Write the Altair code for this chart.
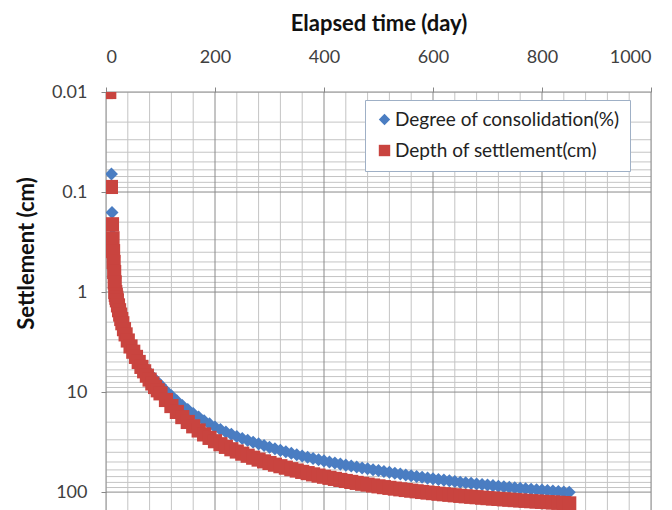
import altair as alt
import pandas as pd

SERIES = ["Degree of consolidation(%)", "Depth of settlement(cm)"]

# Depth of settlement (cm) -- red squares
red_days = [0, 6, 9, 11, 12, 13, 14, 15, 16, 17, 18, 19, 20, 22, 24, 26, 28, 30, 33, 36,
            40, 45, 50, 55, 60, 65, 70, 75, 80, 85, 90, 95, 100, 110, 120, 130, 140, 150,
            160, 170, 180, 190, 200, 210, 220, 230, 240, 250, 260, 270, 280, 290, 300,
            310, 320, 330, 340, 350, 360, 370, 380, 390, 400, 410, 420, 430, 440, 450,
            460, 470, 480, 490, 500, 510, 520, 530, 540, 550, 560, 570, 580, 590, 600,
            610, 620, 630, 640, 650, 660, 670, 680, 690, 700, 710, 720, 730, 740, 750,
            760, 770, 780, 790, 800, 810, 820, 830, 840, 850]
red_vals = [0.01, 0.01, 0.089, 0.21, 0.29, 0.39, 0.50, 0.63, 0.80, 1.0, 1.07, 1.14, 1.21,
            1.36, 1.52, 1.68, 1.86, 2.05, 2.35, 2.65, 3.05, 3.5, 3.95, 4.45, 5.0, 5.6,
            6.2, 6.85, 7.5, 8.2, 8.9, 9.6, 10.3, 12.0, 13.8, 15.8, 17.8, 19.9, 22.0,
            24.2, 26.5, 28.7, 31.0, 33.2, 35.3, 37.3, 39.3, 41.3, 43.3, 45.3, 47.3, 49.3,
            51.2, 53.2, 55.1, 57.0, 59.0, 60.9, 62.8, 64.6, 66.5, 68.4, 70.2, 72.0, 73.8,
            75.6, 77.4, 79.1, 80.9, 82.6, 84.2, 85.9, 87.6, 89.2, 90.7, 92.3, 93.8, 95.3,
            96.8, 98.2, 99.7, 101.1, 102.4, 103.8, 105.1, 106.4, 107.7, 109.0, 110.2,
            111.4, 112.5, 113.7, 114.9, 116.0, 117.1, 118.2, 119.2, 120.3, 121.3, 122.3,
            123.3, 124.3, 125.2, 126.1, 127.0, 127.9, 128.8, 129.7]

# Degree of consolidation (%) -- blue diamonds
blue_days = [0, 10, 11, 12, 13, 14, 15, 16, 17, 18, 19, 20, 22, 24, 26, 28, 30, 33, 36,
             40, 45, 50, 55, 60, 65, 70, 75, 80, 85, 90, 95, 100, 110, 120, 130, 140, 150,
             160, 170, 180, 190, 200, 210, 220, 230, 240, 250, 260, 270, 280, 290, 300,
             310, 320, 330, 340, 350, 360, 370, 380, 390, 400, 410, 420, 430, 440, 450,
             460, 470, 480, 490, 500, 510, 520, 530, 540, 550, 560, 570, 580, 590, 600,
             610, 620, 630, 640, 650, 660, 670, 680, 690, 700, 710, 720, 730, 740, 750,
             760, 770, 780, 790, 800, 810, 820, 830, 840, 850]
blue_vals = [0.01, 0.066, 0.16, 0.27, 0.37, 0.47, 0.60, 0.76, 0.95, 1.02, 1.09, 1.15, 1.30,
             1.45, 1.60, 1.77, 1.95, 2.24, 2.52, 2.90, 3.30, 3.69, 4.12, 4.55, 5.05, 5.54,
             6.06, 6.58, 7.04, 7.54, 8.03, 8.51, 9.68, 10.87, 12.25, 13.59, 14.96, 16.36,
             17.79, 19.34, 20.80, 22.30, 23.71, 25.12, 26.45, 27.77, 29.08, 30.39, 31.68,
             32.96, 34.24, 35.56, 36.94, 38.26, 39.58, 40.97, 42.29, 43.61, 44.86, 46.18,
             47.5, 48.75, 50.0, 51.25, 52.5, 53.75, 54.93, 56.18, 57.36, 58.47, 59.65,
             60.83, 62.16, 63.43, 64.77, 66.06, 67.35, 68.65, 69.89, 71.21, 72.47, 73.67,
             74.68, 75.88, 77.1, 78.33, 79.56, 80.67, 81.79, 82.84, 83.97, 85.11, 86.18,
             87.26, 88.34, 89.36, 90.45, 91.48, 92.51, 93.55, 94.6, 95.57, 96.55, 97.54,
             98.54, 99.54, 100.5]

x_major = [0, 200, 400, 600, 800, 1000]
x_minor = [40, 80, 120, 160, 240, 280, 320, 360, 440, 480, 520, 560, 640, 680, 720, 760,
           840, 880, 920, 960]
y_major = [0.01, 0.1, 1, 10, 100]
y_minor = [0.02, 0.03, 0.04, 0.05, 0.06, 0.07, 0.08, 0.09,
           0.2, 0.3, 0.4, 0.5, 0.6, 0.7, 0.8, 0.9,
           2, 3, 4, 5, 6, 7, 8, 9,
           20, 30, 40, 50, 60, 70, 80, 90]

BLUE = "#4A7DC2"
RED = "#C9443F"
FONT = "Lato"

blue_df = pd.DataFrame({"day": blue_days, "value": blue_vals, "series": SERIES[0]})
red_df = pd.DataFrame({"day": red_days, "value": red_vals, "series": SERIES[1]})

xscale = alt.Scale(domain=[0, 1000], nice=False, zero=False)
yscale = alt.Scale(type="log", domain=[0.01, 151], reverse=True, nice=False)

color_scale = alt.Scale(domain=SERIES, range=[BLUE, RED])
shape_scale = alt.Scale(domain=SERIES, range=["diamond", "square"])

legend = alt.Legend(
    title=None, orient="none", legendX=259, legendY=8,
    fillColor="white", strokeColor="#9FB0C6", padding=10,
    labelFont=FONT, labelFontSize=19, labelColor="#222222", labelOffset=1,
    symbolSize=130, symbolStrokeWidth=0, symbolOpacity=1, rowPadding=11,
    labelLimit=400,
)

x_axis = alt.Axis(orient="top", values=x_major, format="d", title="Elapsed time (day)",
                  grid=False, domain=False, ticks=True, tickSize=5, tickColor="#868686",
                  labelPadding=21, labelFont=FONT, labelFontSize=18, labelColor="#404040",
                  titleFont=FONT, titleFontSize=22, titleFontWeight="bold",
                  titleColor="#111111", titleY=-69, titleBaseline="middle")
y_axis = alt.Axis(values=y_major, format="~g", title="Settlement (cm)", grid=False,
                  domain=False, ticks=True, tickSize=5, tickColor="#868686",
                  labelPadding=14, labelFont=FONT, labelFontSize=18, labelColor="#404040",
                  titleFont=FONT, titleFontSize=22, titleFontWeight="bold",
                  titleColor="#111111", titleX=-80, titleY=161, titleBaseline="middle")

X = lambda f: alt.X(f, scale=xscale, axis=x_axis)
Y = lambda f: alt.Y(f, scale=yscale, axis=y_axis)

vminor = alt.Chart(pd.DataFrame({"x": x_minor})).mark_rule(
    color="#C4C4C4", strokeWidth=1).encode(x=X("x:Q"))
vmajor = alt.Chart(pd.DataFrame({"x": x_major})).mark_rule(
    color="#8A8A8A", strokeWidth=1).encode(x=X("x:Q"))
hminor = alt.Chart(pd.DataFrame({"y": y_minor})).mark_rule(
    color="#C4C4C4", strokeWidth=1).encode(y=Y("y:Q"))
hmajor = alt.Chart(pd.DataFrame({"y": y_major})).mark_rule(
    color="#8A8A8A", strokeWidth=1).encode(y=Y("y:Q"))

def series_layer(df, size):
    return alt.Chart(df).mark_point(filled=True, opacity=1, strokeWidth=0, clip=True).encode(
        x=X("day:Q"),
        y=Y("value:Q"),
        color=alt.Color("series:N", scale=color_scale, legend=legend),
        shape=alt.Shape("series:N", scale=shape_scale, legend=legend),
        size=alt.value(size),
    )

blue_layer = series_layer(blue_df, 170)
red_layer = series_layer(red_df, 200)

chart = alt.layer(vminor, hminor, vmajor, hmajor, blue_layer, red_layer).properties(
    width=545, height=418,
    autosize=alt.AutoSizeParams(type="none"),
    padding={"left": 98, "top": 84, "right": 13, "bottom": 0},
).configure_view(stroke=None).configure(background="white")

chart.save("out.html", embed_options={"renderer": "svg", "actions": False})
